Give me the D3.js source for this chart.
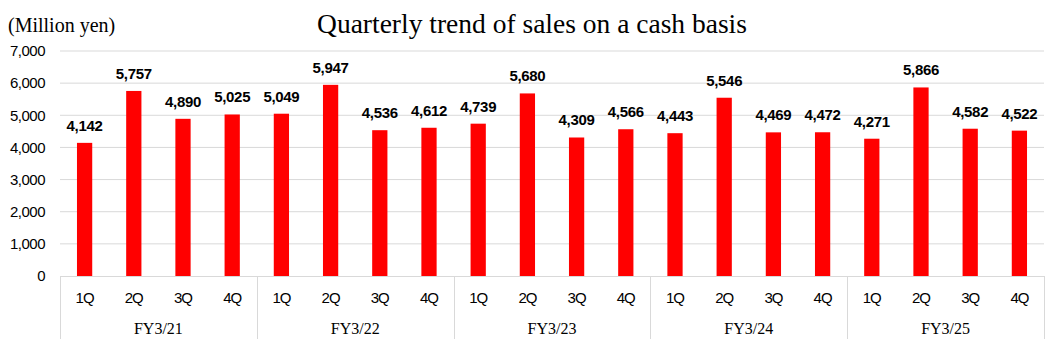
<!DOCTYPE html>
<html>
<head>
<meta charset="utf-8">
<script src="https://cdn.jsdelivr.net/npm/d3@7"></script>
<style>
  body { margin: 0; background: #fff; }
  svg { display: block; }
</style>
</head>
<body>
<div id="chart"></div>
<script>
// Data
const fiscalYears = ["FY3/21", "FY3/22", "FY3/23", "FY3/24", "FY3/25"];
const quarters = ["1Q", "2Q", "3Q", "4Q"];
const sales = [
  4142, 5757, 4890, 5025,
  5049, 5947, 4536, 4612,
  4739, 5680, 4309, 4566,
  4443, 5546, 4469, 4472,
  4271, 5866, 4582, 4522
];
const yTicks = [0, 1000, 2000, 3000, 4000, 5000, 6000, 7000];

const W = 1063, H = 354;
const margin = { top: 51, right: 19, bottom: 78, left: 60 };
const width = W - margin.left - margin.right,
    height = H - margin.top - margin.bottom;

const svg = d3.select("#chart").append("svg")
    .attr("width", W)
    .attr("height", H);

const g = svg.append("g")
    .attr("transform", `translate(${margin.left},${margin.top})`);

// one entry per bar
const data = sales.map((v, i) => ({
    key: fiscalYears[Math.floor(i / 4)] + "-" + quarters[i % 4],
    fy: fiscalYears[Math.floor(i / 4)],
    q: quarters[i % 4],
    value: v
}));

const x = d3.scaleBand()
    .domain(data.map(d => d.key))
    .range([0, width])
    .paddingInner(0.69)
    .paddingOuter(0.345);

const xGroup = d3.scaleBand()
    .domain(fiscalYears)
    .range([0, width]);

const y = d3.scaleLinear()
    .domain([0, 7000])
    .range([height, 0]);

// gridlines
g.append("g")
    .selectAll("line")
    .data(yTicks.slice(1))
    .join("line")
    .attr("x1", 0)
    .attr("x2", width)
    .attr("y1", d => y(d))
    .attr("y2", d => y(d))
    .attr("stroke", "#d9d9d9")
    .attr("stroke-width", 1);

// y labels
g.append("g")
    .selectAll("text")
    .data(yTicks)
    .join("text")
    .attr("x", -15)
    .attr("y", d => y(d))
    .attr("dy", "0.35em")
    .attr("text-anchor", "end")
    .style("font-family", "'Liberation Sans', Arial, sans-serif")
    .style("font-size", "15px")
    .style("letter-spacing", "-0.5px")
    .attr("fill", "#000")
    .text(d => d3.format(",")(d));

// bars
g.append("g")
    .selectAll("rect")
    .data(data)
    .join("rect")
    .attr("x", d => x(d.key))
    .attr("y", d => y(d.value))
    .attr("width", x.bandwidth())
    .attr("height", d => height - y(d.value))
    .attr("fill", "#ff0000");

// value labels
g.append("g")
    .selectAll("text")
    .data(data)
    .join("text")
    .attr("x", d => x(d.key) + x.bandwidth() / 2)
    .attr("y", d => y(d.value) - 12)
    .attr("text-anchor", "middle")
    .style("font-family", "'Liberation Sans', Arial, sans-serif")
    .style("font-size", "15px")
    .style("font-weight", "bold")
    .style("letter-spacing", "-0.3px")
    .attr("fill", "#000")
    .text(d => d3.format(",")(d.value));

// x axis line
g.append("line")
    .attr("x1", 0)
    .attr("x2", width)
    .attr("y1", height + 0.5)
    .attr("y2", height + 0.5)
    .attr("stroke", "#d9d9d9");

// group separators
g.append("g")
    .selectAll("line")
    .data(fiscalYears.map(f => xGroup(f)).concat([width]))
    .join("line")
    .attr("x1", d => Math.round(d) + 0.5)
    .attr("x2", d => Math.round(d) + 0.5)
    .attr("y1", height)
    .attr("y2", height + 63)
    .attr("stroke", "#d9d9d9");

// quarter labels
g.append("g")
    .selectAll("text")
    .data(data)
    .join("text")
    .attr("x", d => x(d.key) + x.bandwidth() / 2)
    .attr("y", height + 27)
    .attr("text-anchor", "middle")
    .style("font-family", "'Liberation Sans', Arial, sans-serif")
    .style("font-size", "15px")
    .style("letter-spacing", "-1px")
    .attr("fill", "#000")
    .text(d => d.q);

// fiscal year labels
g.append("g")
    .selectAll("text")
    .data(fiscalYears)
    .join("text")
    .attr("x", d => xGroup(d) + xGroup.bandwidth() / 2)
    .attr("y", height + 58)
    .attr("text-anchor", "middle")
    .style("font-family", "'Liberation Serif', 'Times New Roman', serif")
    .style("font-size", "16px")
    .attr("fill", "#000")
    .text(d => d);

// title
svg.append("text")
    .attr("x", 532)
    .attr("y", 33)
    .attr("text-anchor", "middle")
    .style("font-family", "'Liberation Serif', 'Times New Roman', serif")
    .style("font-size", "27.5px")
    .attr("fill", "#000")
    .text("Quarterly trend of sales on a cash basis");

// unit label
svg.append("text")
    .attr("x", 8)
    .attr("y", 32)
    .style("font-family", "'Liberation Serif', 'Times New Roman', serif")
    .style("font-size", "20px")
    .attr("fill", "#000")
    .text("(Million yen)");
</script>
</body>
</html>
